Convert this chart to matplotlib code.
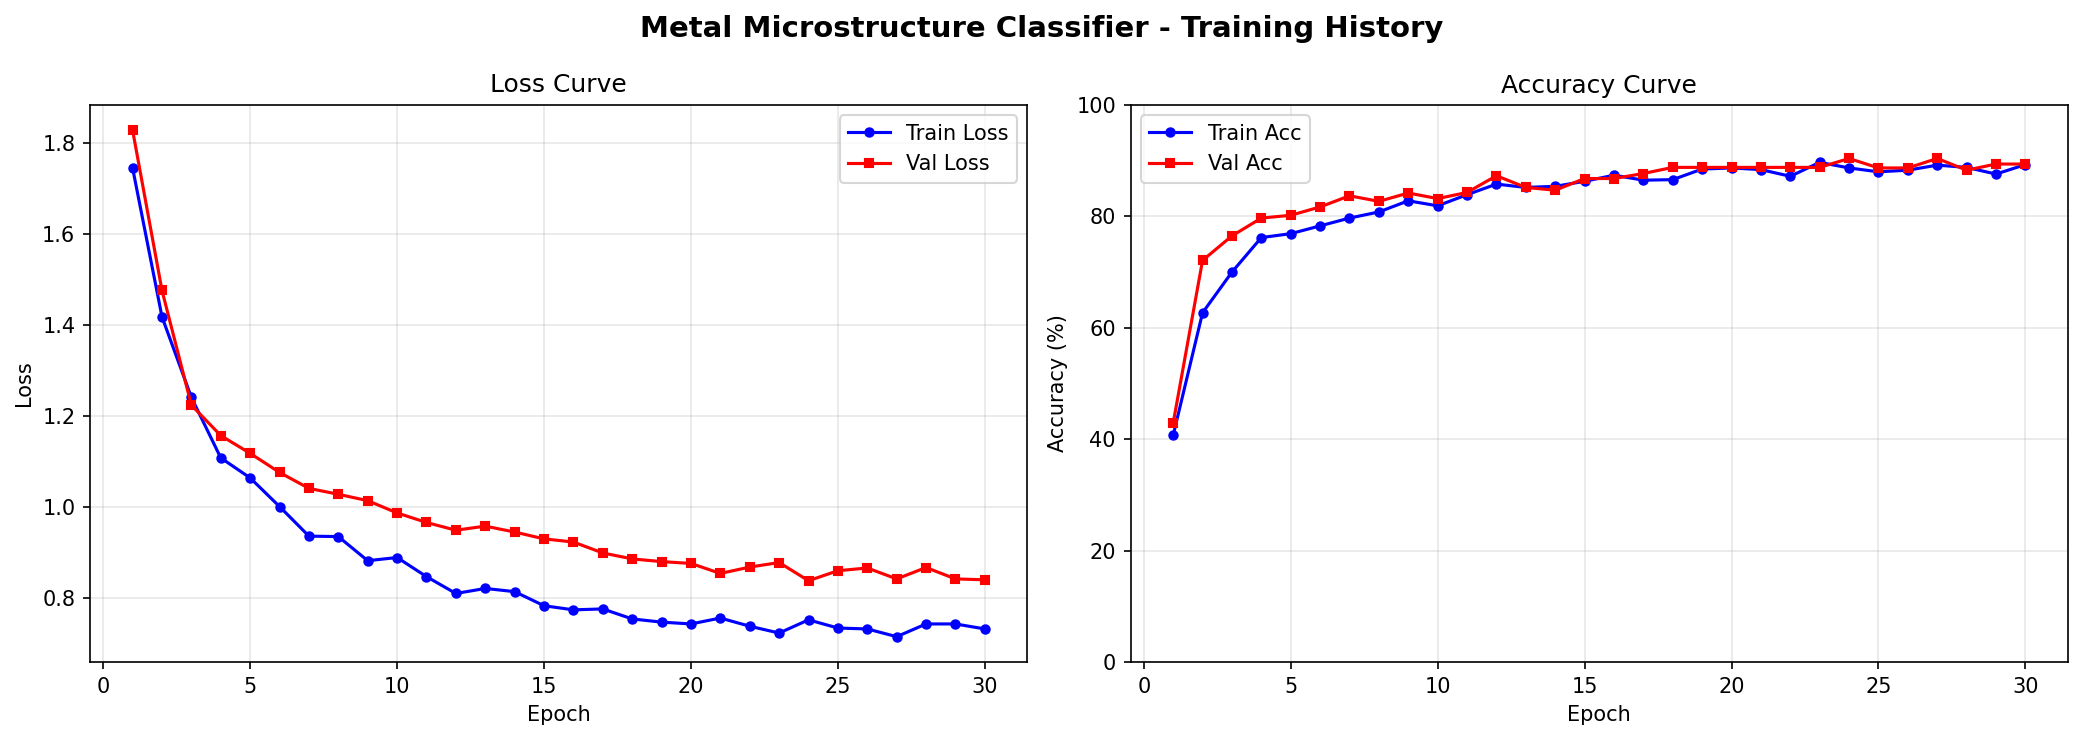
import matplotlib
matplotlib.use("Agg")
import matplotlib.pyplot as plt

epochs = list(range(1, 31))
train_loss = [1.744, 1.417, 1.240, 1.107, 1.063, 1.000, 0.935, 0.934, 0.881, 0.888,
              0.846, 0.809, 0.820, 0.813, 0.782, 0.773, 0.775, 0.753, 0.746, 0.742,
              0.755, 0.737, 0.722, 0.751, 0.733, 0.731, 0.714, 0.742, 0.742, 0.731]
val_loss = [1.827, 1.475, 1.223, 1.156, 1.117, 1.075, 1.040, 1.027, 1.013, 0.986,
            0.965, 0.948, 0.957, 0.944, 0.929, 0.922, 0.898, 0.885, 0.879, 0.875,
            0.853, 0.867, 0.877, 0.837, 0.859, 0.865, 0.841, 0.866, 0.841, 0.839]
train_acc = [40.7, 62.7, 70.0, 76.2, 76.9, 78.3, 79.7, 80.8, 82.8, 81.9,
             83.9, 85.8, 85.2, 85.4, 86.3, 87.4, 86.5, 86.6, 88.5, 88.7,
             88.4, 87.2, 89.7, 88.7, 88.0, 88.3, 89.2, 88.8, 87.6, 89.3]
val_acc = [42.9, 72.1, 76.5, 79.7, 80.2, 81.7, 83.7, 82.7, 84.2, 83.2,
           84.3, 87.3, 85.2, 84.7, 86.8, 86.8, 87.7, 88.8, 88.8, 88.8,
           88.8, 88.8, 88.8, 90.4, 88.7, 88.7, 90.4, 88.3, 89.4, 89.4]

fig, (ax1, ax2) = plt.subplots(1, 2, figsize=(2084/150, 740/150), dpi=150)
fig.suptitle("Metal Microstructure Classifier - Training History", fontsize=14, fontweight="bold")

ax1.plot(epochs, train_loss, "b-o", label="Train Loss", linewidth=1.5, markersize=4)
ax1.plot(epochs, val_loss, "r-s", label="Val Loss", linewidth=1.5, markersize=4)
ax1.set_title("Loss Curve", fontsize=12)
ax1.set_xlabel("Epoch")
ax1.set_ylabel("Loss")
ax1.legend()
ax1.grid(True, alpha=0.3)

ax2.plot(epochs, train_acc, "b-o", label="Train Acc", linewidth=1.5, markersize=4)
ax2.plot(epochs, val_acc, "r-s", label="Val Acc", linewidth=1.5, markersize=4)
ax2.set_title("Accuracy Curve", fontsize=12)
ax2.set_xlabel("Epoch")
ax2.set_ylabel("Accuracy (%)")
ax2.set_ylim(0, 100)
ax2.legend()
ax2.grid(True, alpha=0.3)

fig.subplots_adjust(left=90/2084, right=2068/2084, top=1-105/740, bottom=1-662/740, wspace=0.11)
fig.savefig("out.png", dpi=150)
